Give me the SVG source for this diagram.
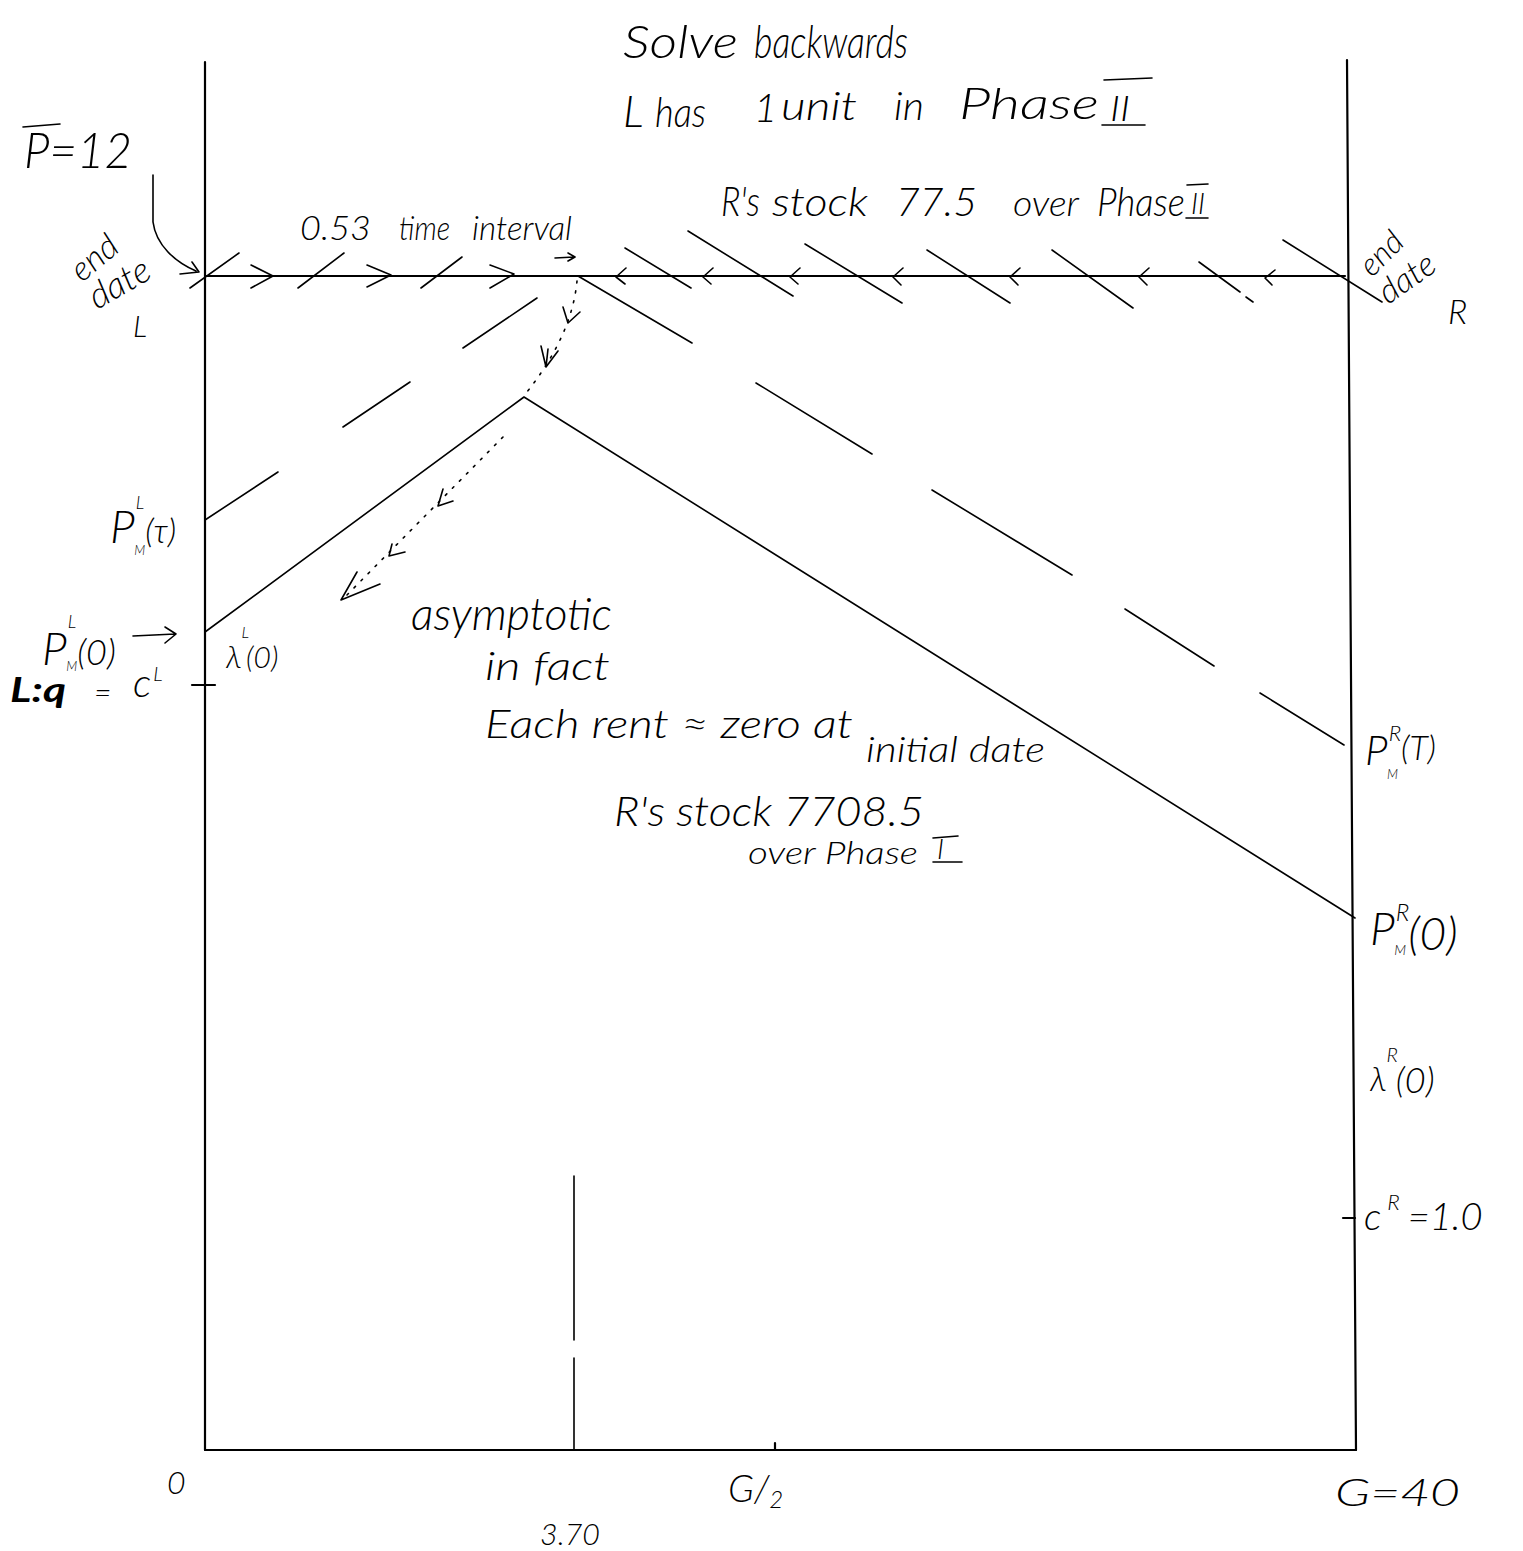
<svg xmlns="http://www.w3.org/2000/svg" width="1523" height="1551" viewBox="0 0 1523 1551">
<style>
 .ln{stroke:#000;stroke-width:1.6;fill:none;stroke-linecap:round;stroke-linejoin:round}
 .ax{stroke-width:2.2}
 .dt{stroke-dasharray:2 8}
 .t{font-family:"Lato","Liberation Sans",sans-serif;font-style:italic;font-weight:300;fill:#000}
</style>
<rect width="1523" height="1551" fill="#fff"/>

<g id="axes" class="ln ax">
 <path d="M205,62 L205,1450"/>
 <path d="M1347,60 L1356,1450"/>
 <path d="M205,1450 L1356,1450"/>
 <path d="M205,276 L1345,276"/>
 <path d="M775,1443 L775,1450"/>
 <path d="M574,1176 L574,1340 M574,1358 L574,1450" class="ln"/>
 <path d="M192,685 L215,685"/>
 <path d="M1343,1218 L1355,1218"/>
</g>

<g id="connectors" class="ln">
 <path d="M205,632 L524,397 L1355,918"/>
 <path d="M205,520 L278,472 M343,427 L410,382 M463,348 L537,298"/>
 <path d="M578,276 L692,343 M756,383 L872,454 M932,490 L1072,575 M1125,609 L1214,666 M1260,693 L1344,745"/>
 <path d="M190,288 L239,253 M298,288 L344,253 M421,288 L462,257"/>
 <path d="M251,265 L273,276 L251,288 M367,265 L391,275 L367,287 M490,265 L514,274 L490,288"/>
 <path d="M625,248 L691,288 M688,231 L793,296 M805,244 L902,303 M927,250 L1010,303 M1052,250 L1133,308 M1199,262 L1240,292 M1246,297 L1253,302 M1283,240 L1382,302"/>
 <path d="M626,268 L616,277 L625,284 M713,268 L703,277 L711,284 M800,268 L790,277 L798,284 M903,268 L893,277 L901,285 M1020,268 L1010,277 L1018,285 M1149,268 L1139,277 L1147,285 M1275,270 L1265,278 L1272,285"/>
 <path d="M577,281 Q572,335 527,392" class="ln dt"/>
 <path d="M563,307 L568,323 L580,312 M541,346 L546,367 L558,351 M548,349 L546,367"/>
 <path d="M503,437 L345,597" class="ln dt"/>
 <path d="M443,489 L438,506 L453,501 M392,544 L389,556 L405,552 M357,572 L341,600 L380,584"/>
 <path d="M153,175 L153,222 C156,245 175,262 196,271 M180,274 L199,272 L192,262"/>
 <path d="M555,258 L574,257 M568,253 L575,257 L568,261"/>
 <path d="M133,636 L175,634 M165,627 L176,634 L165,643"/>
</g>

<g id="title" class="t">
 <text x="623" y="58" font-size="46" textLength="115" lengthAdjust="spacingAndGlyphs">Solve</text>
 <text x="754" y="58" font-size="46" textLength="154" lengthAdjust="spacingAndGlyphs">backwards</text>
</g>

<g id="phase2-L" class="t">
 <text x="623" y="127" font-size="44">L</text>
 <text x="655" y="127" font-size="42" textLength="51" lengthAdjust="spacingAndGlyphs">has</text>
 <text x="754" y="122" font-size="40">1</text>
 <text x="781" y="120" font-size="40" textLength="76" lengthAdjust="spacingAndGlyphs">unit</text>
 <text x="894" y="120" font-size="40" textLength="30" lengthAdjust="spacingAndGlyphs">in</text>
 <text x="959" y="119" font-size="44" textLength="140" lengthAdjust="spacingAndGlyphs">Phase</text>
 <text x="1110" y="121" font-size="36" textLength="20" lengthAdjust="spacingAndGlyphs">II</text>
 <path d="M1104,80 L1152,78 M1102,125 L1145,125" class="ln"/>
</g>

<g id="phase2-R" class="t">
 <text x="721" y="216" font-size="42" textLength="39" lengthAdjust="spacingAndGlyphs">R's</text>
 <text x="772" y="216" font-size="40" textLength="96" lengthAdjust="spacingAndGlyphs">stock</text>
 <text x="896" y="216" font-size="40" textLength="81" lengthAdjust="spacingAndGlyphs">77.5</text>
 <text x="1013" y="216" font-size="36" textLength="66" lengthAdjust="spacingAndGlyphs">over</text>
 <text x="1097" y="216" font-size="40" textLength="88" lengthAdjust="spacingAndGlyphs">Phase</text>
 <text x="1191" y="214" font-size="30" textLength="14" lengthAdjust="spacingAndGlyphs">II</text>
 <path d="M1187,185 L1208,184 M1186,218 L1208,218" class="ln"/>
</g>

<g id="interval" class="t">
 <text x="300" y="240" font-size="34" textLength="71" lengthAdjust="spacingAndGlyphs">0.53</text>
 <text x="399" y="240" font-size="34" textLength="51" lengthAdjust="spacingAndGlyphs">time</text>
 <text x="472" y="240" font-size="34" textLength="100" lengthAdjust="spacingAndGlyphs">interval</text>
</g>

<g id="pbar" class="t">
 <path d="M23,127 L60,124" class="ln"/>
 <text x="24" y="168" font-size="50" textLength="108" lengthAdjust="spacingAndGlyphs">P=12</text>
</g>

<g id="enddate-L" class="t">
 <text transform="translate(82,283) rotate(-40)" font-size="34">end</text>
 <text transform="translate(97,310) rotate(-30)" font-size="36">date</text>
 <text x="133" y="337" font-size="30">L</text>
</g>

<g id="enddate-R" class="t">
 <text transform="translate(1372,278) rotate(-45)" font-size="32">end</text>
 <text transform="translate(1388,305) rotate(-35)" font-size="34">date</text>
 <text x="1448" y="324" font-size="34">R</text>
</g>

<g id="PML-tau" class="t">
 <text x="110" y="543" font-size="46">P<tspan font-size="18" dx="1" dy="-34">L</tspan><tspan font-size="13" dx="-10" dy="46">M</tspan><tspan font-size="34" dx="0" dy="-12">(τ)</tspan></text>
</g>

<g id="PML-0" class="t">
 <text x="42" y="665" font-size="46">P<tspan font-size="18" dx="1" dy="-37">L</tspan><tspan font-size="13" dx="-10" dy="43">M</tspan><tspan font-size="36" dx="0" dy="-6">(0)</tspan></text>
</g>

<g id="lambdaL" class="t">
 <text x="226" y="668" font-size="32">λ<tspan font-size="16" dx="0" dy="-30">L</tspan><tspan font-size="30" dx="-3" dy="30">(0)</tspan></text>
</g>

<g id="cL" class="t">
 <text x="10" y="702" font-size="34" font-weight="700" textLength="56" lengthAdjust="spacingAndGlyphs">L:q</text>
 <text x="94" y="703" font-size="30">=</text>
 <text x="133" y="697" font-size="40">c<tspan font-size="20" dx="2" dy="-16">L</tspan></text>
</g>

<g id="asymptotic" class="t">
 <text x="411" y="630" font-size="46" textLength="201" lengthAdjust="spacingAndGlyphs">asymptotic</text>
 <text x="485" y="680" font-size="40" textLength="125" lengthAdjust="spacingAndGlyphs">in fact</text>
</g>

<g id="rent-note" class="t">
 <text x="485" y="738" font-size="40" textLength="368" lengthAdjust="spacingAndGlyphs">Each rent ≈ zero at</text>
 <text x="866" y="762" font-size="36" textLength="179" lengthAdjust="spacingAndGlyphs">initial date</text>
</g>

<g id="phase1-R" class="t">
 <text x="614" y="826" font-size="42" textLength="310" lengthAdjust="spacingAndGlyphs">R's stock 7708.5</text>
 <text x="748" y="864" font-size="31" textLength="170" lengthAdjust="spacingAndGlyphs">over Phase</text>
 <text x="937" y="859" font-size="28">I</text>
 <path d="M933,838 L958,836 M933,862 L962,862" class="ln"/>
</g>

<g id="PMR-T" class="t">
 <text x="1365" y="765" font-size="42">P<tspan font-size="22" dx="1" dy="-24">R</tspan><tspan font-size="13" dx="-14" dy="38">M</tspan><tspan font-size="34" dx="3" dy="-19">(T)</tspan></text>
</g>

<g id="PMR-0" class="t">
 <text x="1370" y="945" font-size="46">P<tspan font-size="24" dx="1" dy="-24">R</tspan><tspan font-size="14" dx="-15" dy="34">M</tspan><tspan font-size="46" dx="2" dy="-5">(0)</tspan></text>
</g>

<g id="lambdaR" class="t">
 <text x="1370" y="1091" font-size="34">λ<tspan font-size="20" dx="0" dy="-29">R</tspan><tspan font-size="36" dx="-2" dy="31">(0)</tspan></text>
</g>

<g id="cR" class="t">
 <text x="1364" y="1230" font-size="38">c<tspan font-size="22" dx="6" dy="-20">R</tspan><tspan font-size="38" dx="8" dy="20">=1.0</tspan></text>
</g>

<g id="x-labels" class="t">
 <text x="167" y="1494" font-size="32">0</text>
 <text x="728" y="1502" font-size="38">G/<tspan font-size="24" dy="6">2</tspan></text>
 <text x="1335" y="1506" font-size="38" textLength="125" lengthAdjust="spacingAndGlyphs">G=40</text>
 <text x="540" y="1545" font-size="30" textLength="60" lengthAdjust="spacingAndGlyphs">3.70</text>
</g>
</svg>
